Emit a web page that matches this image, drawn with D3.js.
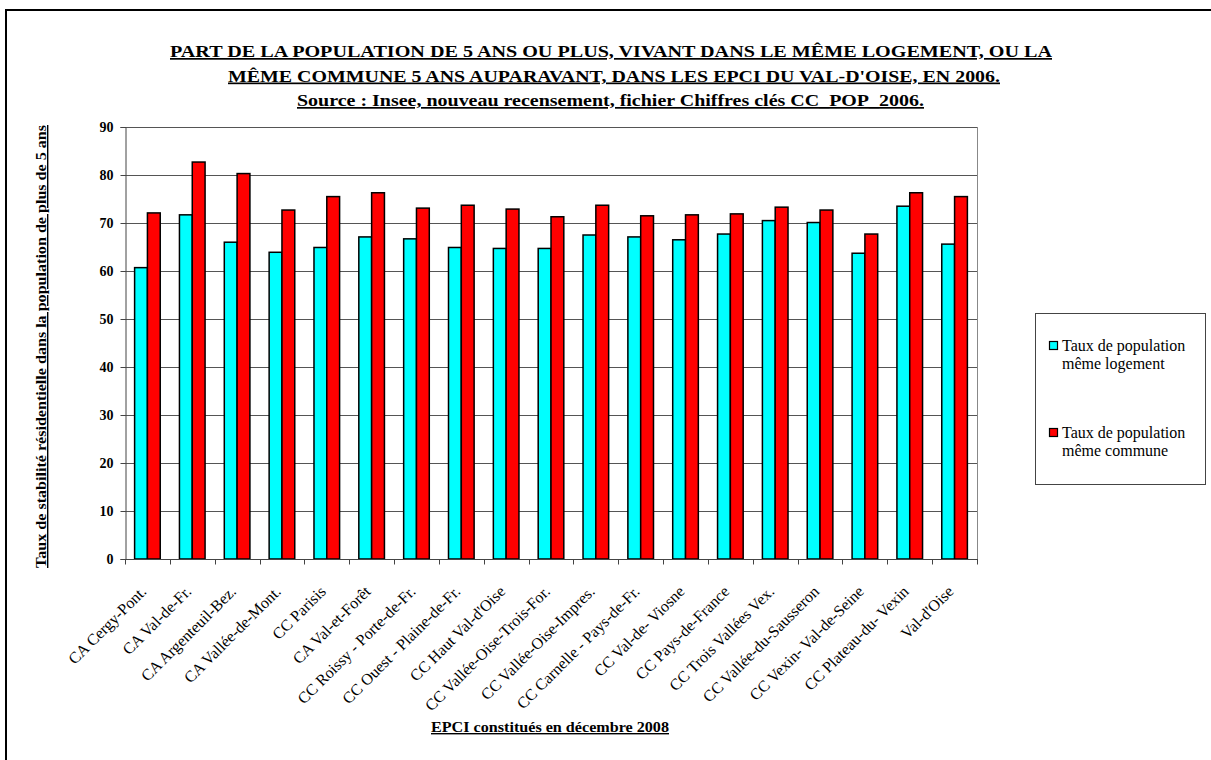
<!DOCTYPE html>
<html>
<head>
<meta charset="utf-8">
<script src="https://cdn.jsdelivr.net/npm/d3@7"></script>
<style>
  html, body { margin: 0; padding: 0; background: #fff; }
  svg { display: block; }
  svg text { font-family: "Liberation Serif", "Times New Roman", Times, "DejaVu Serif", serif; }
</style>
</head>
<body>
<svg id="chart" width="1211" height="760"></svg>
<script>
const categories = [
  "CA Cergy-Pont.", "CA Val-de-Fr.", "CA Argenteuil-Bez.", "CA Vallée-de-Mont.",
  "CC Parisis", "CA Val-et-Forêt", "CC Roissy - Porte-de-Fr.", "CC Ouest - Plaine-de-Fr.",
  "CC Haut Val-d'Oise", "CC Vallée-Oise-Trois-For.", "CC Vallée-Oise-Impres.",
  "CC Carnelle - Pays-de-Fr.", "CC Val-de- Viosne", "CC Pays-de-France",
  "CC Trois Vallées Vex.", "CC Vallée-du-Sausseron", "CC Vexin- Val-de-Seine",
  "CC Plateau-du- Vexin", "Val-d'Oise"
];
const memeLogement = [60.7, 71.7, 66.0, 63.9, 64.9, 67.1, 66.7, 64.9, 64.7, 64.7, 67.5, 67.1, 66.5, 67.7, 70.5, 70.1, 63.7, 73.5, 65.6];
const memeCommune  = [72.1, 82.7, 80.3, 72.7, 75.5, 76.3, 73.1, 73.7, 72.9, 71.3, 73.7, 71.5, 71.7, 71.9, 73.3, 72.7, 67.7, 76.3, 75.5];
const seriesNames = ["Taux de population|même logement", "Taux de population|même commune"];
const seriesColors = ["#00FFFF", "#FF0000"];
const yTicks = [0, 10, 20, 30, 40, 50, 60, 70, 80, 90];
const titleLines = [
  "PART DE LA POPULATION DE 5 ANS OU PLUS, VIVANT DANS LE MÊME LOGEMENT, OU LA",
  "MÊME COMMUNE 5 ANS AUPARAVANT, DANS LES EPCI DU VAL-D'OISE, EN 2006.",
  "Source : Insee, nouveau recensement, fichier Chiffres clés CC_POP_2006."
];
const yTitle = "Taux de stabilité résidentielle dans la population de plus de 5 ans";
const xTitle = "EPCI constitués en décembre 2008";

const svg = d3.select("#chart");

// outer frame
svg.append("rect").attr("x", 6).attr("y", 10).attr("width", 1300).attr("height", 900)
  .attr("fill", "none").attr("stroke", "#000").attr("stroke-width", 2);

const plot = { left: 125, right: 977, top: 127, bottom: 559 };

const x0 = d3.scaleBand().domain(categories).range([plot.left, plot.right]).paddingInner(0).paddingOuter(0);
const groupW = x0.bandwidth();
const barW = groupW / 3.5;
const y = d3.scaleLinear().domain([0, 90]).range([plot.bottom, plot.top]);

// gridlines
svg.append("g").selectAll("line").data(yTicks.filter(d => d > 0)).join("line")
  .attr("x1", plot.left).attr("x2", plot.right)
  .attr("y1", d => Math.round(y(d)) + 0.5).attr("y2", d => Math.round(y(d)) + 0.5)
  .attr("stroke", "#555").attr("stroke-width", 1);

// right border
svg.append("line").attr("x1", plot.right + 0.5).attr("x2", plot.right + 0.5)
  .attr("y1", plot.top).attr("y2", plot.bottom).attr("stroke", "#888").attr("stroke-width", 1);

// bars
const series = [memeLogement, memeCommune];
series.forEach((vals, si) => {
  svg.append("g").selectAll("rect").data(vals).join("rect")
    .attr("x", (d, i) => x0(categories[i]) + (groupW - 2 * barW) / 2 + si * barW)
    .attr("y", d => y(d))
    .attr("width", barW)
    .attr("height", d => y(0) - y(d))
    .attr("fill", seriesColors[si])
    .attr("stroke", "#000").attr("stroke-width", 1.5);
});

// Y axis
const yAxis = svg.append("g").attr("transform", `translate(${plot.left + 0.5},0)`)
  .call(d3.axisLeft(y).tickValues(yTicks).tickSize(5).tickPadding(7));
yAxis.select(".domain").attr("stroke", "#444");
yAxis.selectAll(".tick line").attr("stroke", "#444");
yAxis.selectAll("text").attr("font-family", null).attr("font-weight", "bold")
  .attr("font-size", 14).attr("fill", "#000");

// X axis (ticks at category boundaries)
const xAxisG = svg.append("g").attr("transform", `translate(0,${plot.bottom + 0.5})`);
xAxisG.append("line").attr("x1", plot.left).attr("x2", plot.right + 1)
  .attr("stroke", "#444");
const boundaries = categories.map(c => x0(c)).concat([plot.right]);
xAxisG.selectAll("line.tk").data(boundaries).join("line").attr("class", "tk")
  .attr("x1", d => Math.round(d) + 0.5).attr("x2", d => Math.round(d) + 0.5)
  .attr("y1", 0).attr("y2", 5).attr("stroke", "#444");

xAxisG.selectAll("text").data(categories).join("text")
  .attr("transform", d => `translate(${x0(d) + groupW / 2},${33}) rotate(-45)`)
  .attr("text-anchor", "end")
  .attr("font-size", 16).attr("fill", "#000")
  .text(d => d);

// Title
const titleSpans = [[170, 1052], [228, 1000], [297, 924]];
titleLines.forEach((t, i) => {
  const [a, b] = titleSpans[i];
  svg.append("text").attr("x", a).attr("y", 57 + i * 24.5)
    .attr("font-weight", "bold").attr("font-size", 17)
    .attr("textLength", b - a).attr("lengthAdjust", "spacingAndGlyphs")
    .attr("text-decoration", "underline").attr("fill", "#000")
    .text(t);
});

// Y title
svg.append("text").attr("transform", `translate(46,568) rotate(-90)`)
  .attr("font-weight", "bold").attr("font-size", 14)
  .attr("textLength", 443).attr("lengthAdjust", "spacingAndGlyphs")
  .attr("text-decoration", "underline").attr("fill", "#000")
  .text(yTitle);

// X title
svg.append("text").attr("x", 431).attr("y", 732)
  .attr("font-weight", "bold").attr("font-size", 14)
  .attr("textLength", 238).attr("lengthAdjust", "spacingAndGlyphs")
  .attr("text-decoration", "underline").attr("fill", "#000")
  .text(xTitle);

// Legend
const lg = svg.append("g");
lg.append("rect").attr("x", 1035.5).attr("y", 313.5).attr("width", 170).attr("height", 171)
  .attr("fill", "#fff").attr("stroke", "#444").attr("stroke-width", 1);
seriesNames.forEach((name, i) => {
  const baseY = 351 + i * 87;
  lg.append("rect").attr("x", 1049.5).attr("y", baseY - 9.5).attr("width", 8).attr("height", 8)
    .attr("fill", seriesColors[i]).attr("stroke", "#000").attr("stroke-width", 1.2);
  name.split("|").forEach((ln, j) => {
    lg.append("text").attr("x", 1062).attr("y", baseY + j * 18)
      .attr("font-size", 16).attr("fill", "#000")
      .text(ln);
  });
});
</script>
</body>
</html>
